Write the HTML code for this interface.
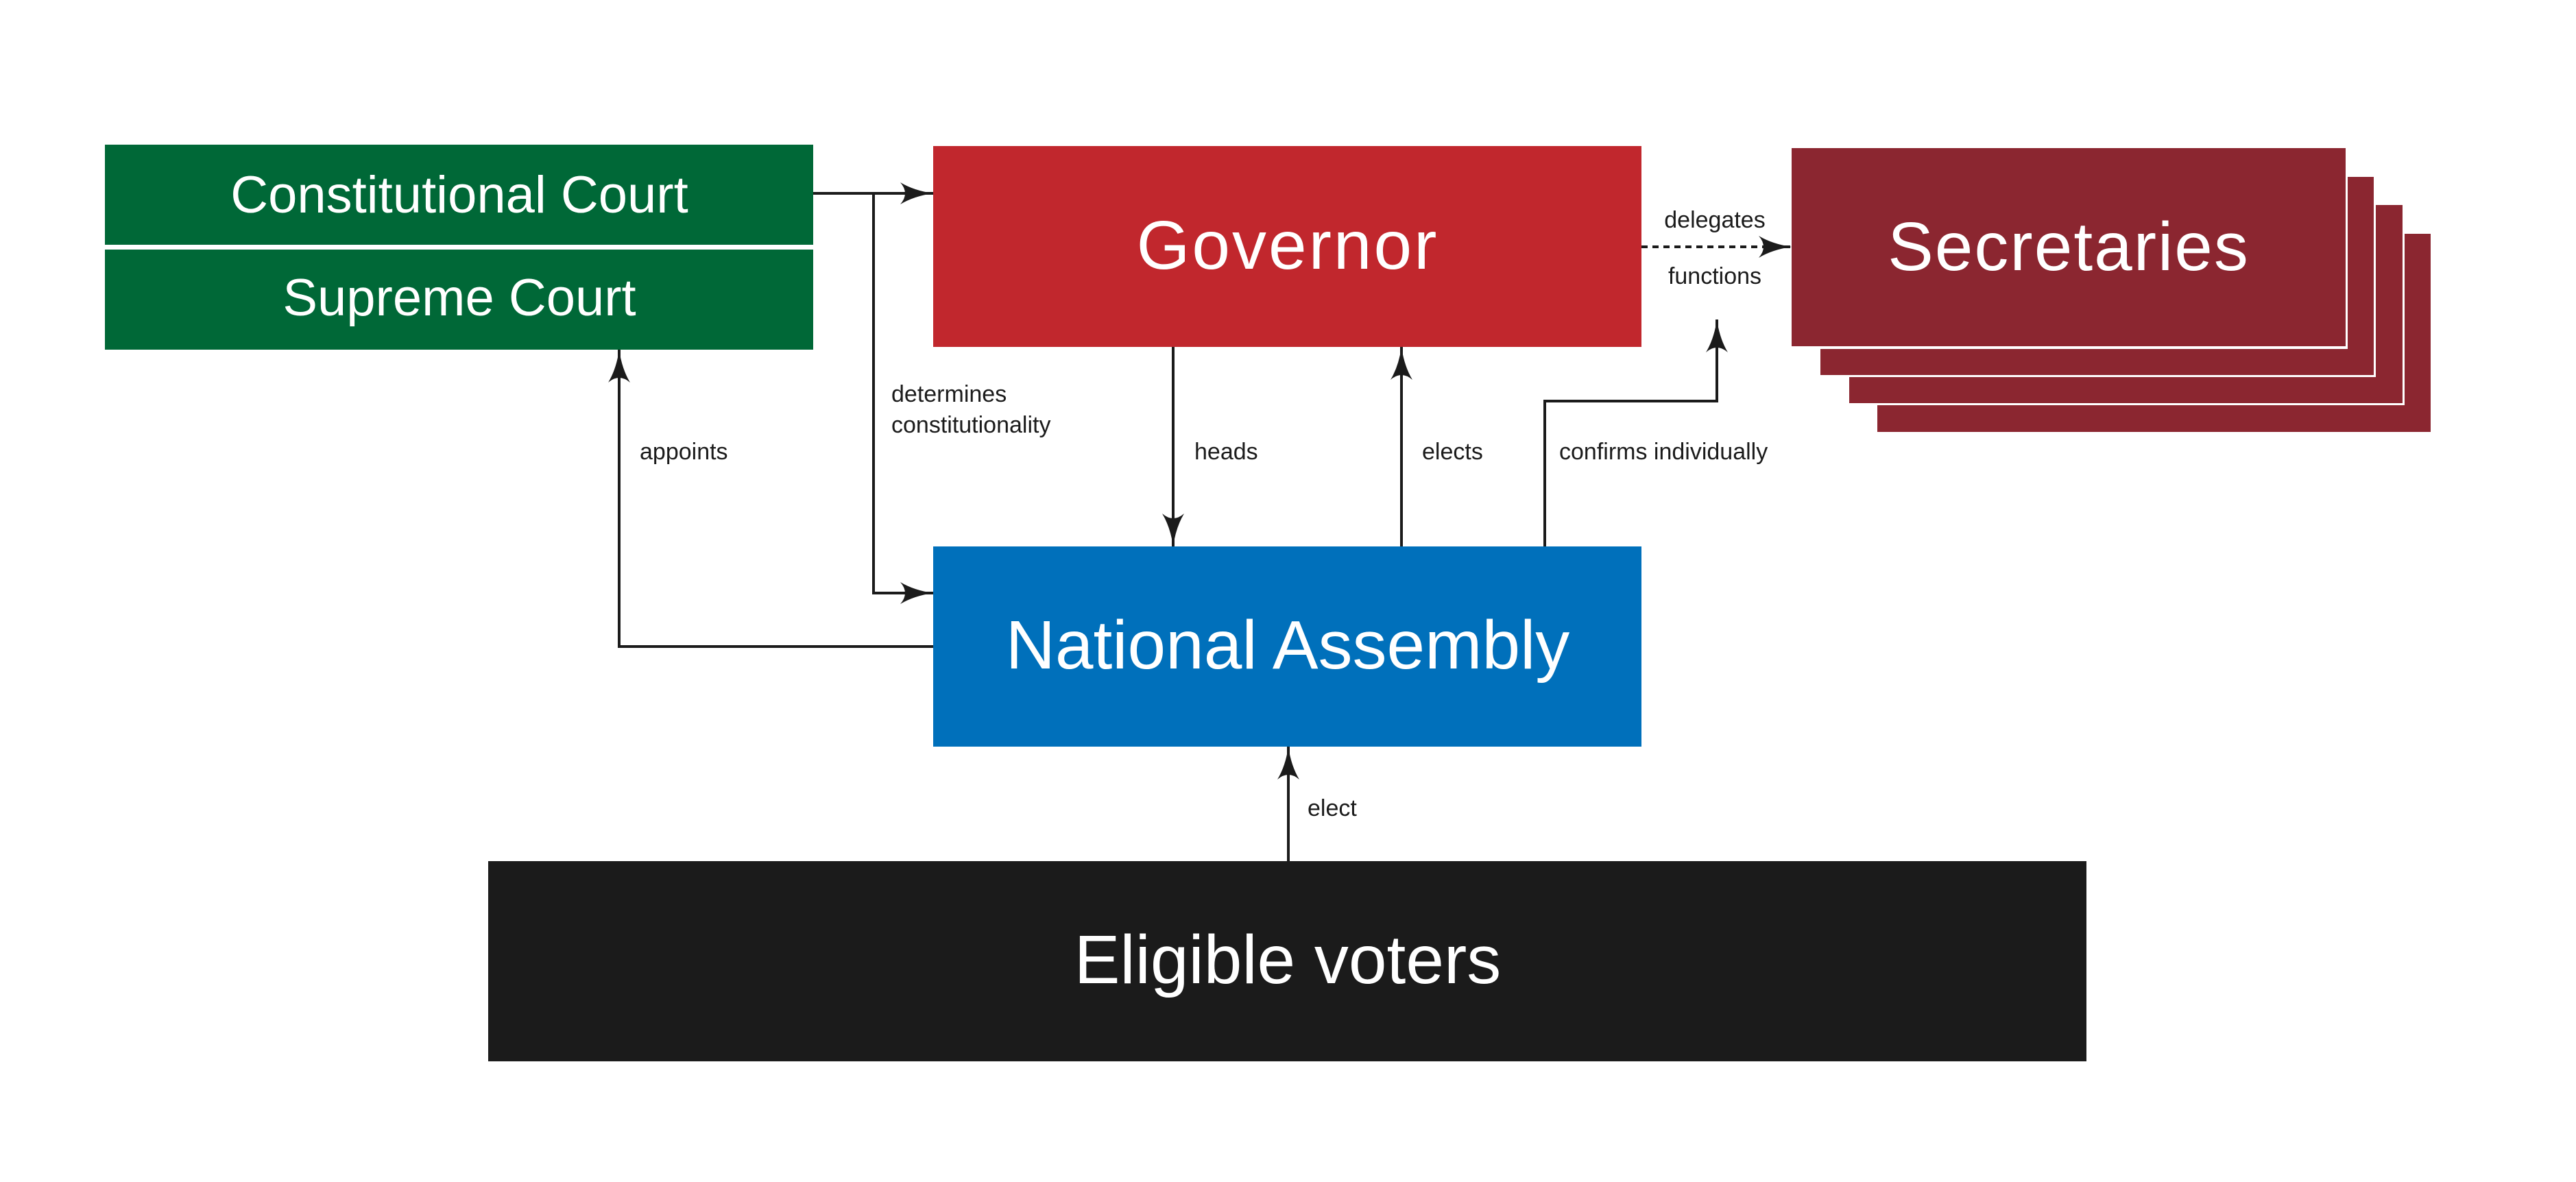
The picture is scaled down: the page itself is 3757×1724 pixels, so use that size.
<!DOCTYPE html>
<html><head><meta charset="utf-8"><style>
html,body{margin:0;padding:0;background:#fff;}
svg{display:block;}
text{font-family:"Liberation Sans",sans-serif;}
</style></head><body>
<svg width="3757" height="1724" viewBox="0 0 3757 1724" xmlns="http://www.w3.org/2000/svg">
<defs>
<marker id="ah" viewBox="0 0 48 32" refX="48" refY="16" markerWidth="48" markerHeight="32" markerUnits="userSpaceOnUse" orient="auto">
<path d="M0,0 Q20,12 48,16 Q20,20 0,32 Q14,16 0,0 Z" fill="#1b1b1b"/>
</marker>
</defs>
<rect width="3757" height="1724" fill="#fff"/>
<!-- courts -->
<rect x="153" y="211" width="1033" height="146" fill="#006837"/>
<rect x="153" y="364" width="1033" height="146" fill="#006837"/>
<text x="670" y="310" font-size="76" fill="#fff" text-anchor="middle">Constitutional Court</text>
<text x="670" y="460" font-size="76" fill="#fff" text-anchor="middle">Supreme Court</text>
<!-- governor -->
<rect x="1361" y="213" width="1033" height="293" fill="#c1272d"/>
<text x="1878" y="392" font-size="100" fill="#fff" text-anchor="middle" letter-spacing="3">Governor</text>
<!-- secretaries stack -->
<rect x="2738" y="341" width="807" height="289" fill="#8b2630"/>
<rect x="2697" y="299" width="810" height="292" fill="#fff"/>
<rect x="2697" y="299" width="807" height="289" fill="#8b2630"/>
<rect x="2655" y="258" width="810" height="292" fill="#fff"/>
<rect x="2655" y="258" width="807" height="289" fill="#8b2630"/>
<rect x="2613" y="216" width="811" height="293" fill="#fff"/>
<rect x="2613" y="216" width="808" height="289" fill="#8b2630"/>
<text x="3017" y="394" font-size="100" fill="#fff" text-anchor="middle" letter-spacing="2">Secretaries</text>
<!-- national assembly -->
<rect x="1361" y="797" width="1033" height="292" fill="#0070bb"/>
<text x="1878" y="975" font-size="100" fill="#fff" text-anchor="middle">National Assembly</text>
<!-- voters -->
<rect x="712" y="1256" width="2331" height="292" fill="#1b1b1b"/>
<text x="1878" y="1434" font-size="100" fill="#fff" text-anchor="middle">Eligible voters</text>
<!-- connectors -->
<g stroke="#1b1b1b" stroke-width="4" fill="none">
<path d="M1186,282 L1361,282" marker-end="url(#ah)"/>
<path d="M1274,282 L1274,865 L1361,865" marker-end="url(#ah)"/>
<path d="M1361,943 L903,943 L903,510" marker-end="url(#ah)"/>
<path d="M1711,506 L1711,797" marker-end="url(#ah)"/>
<path d="M2044,797 L2044,506" marker-end="url(#ah)"/>
<path d="M2253,797 L2253,585 L2504,585 L2504,466" marker-end="url(#ah)"/>
<path d="M2394,360 L2613,360" stroke-dasharray="9,7" marker-end="url(#ah)"/>
<path d="M1879,1256 L1879,1089" marker-end="url(#ah)"/>
</g>
<g font-size="34" fill="#1b1b1b">
<text x="933" y="670">appoints</text>
<text x="1300" y="586">determines</text>
<text x="1300" y="631">constitutionality</text>
<text x="1742" y="670">heads</text>
<text x="2074" y="670">elects</text>
<text x="2274" y="670">confirms individually</text>
<text x="2501" y="332" text-anchor="middle">delegates</text>
<text x="2501" y="414" text-anchor="middle">functions</text>
<text x="1907" y="1190">elect</text>
</g>
</svg>
</body></html>
